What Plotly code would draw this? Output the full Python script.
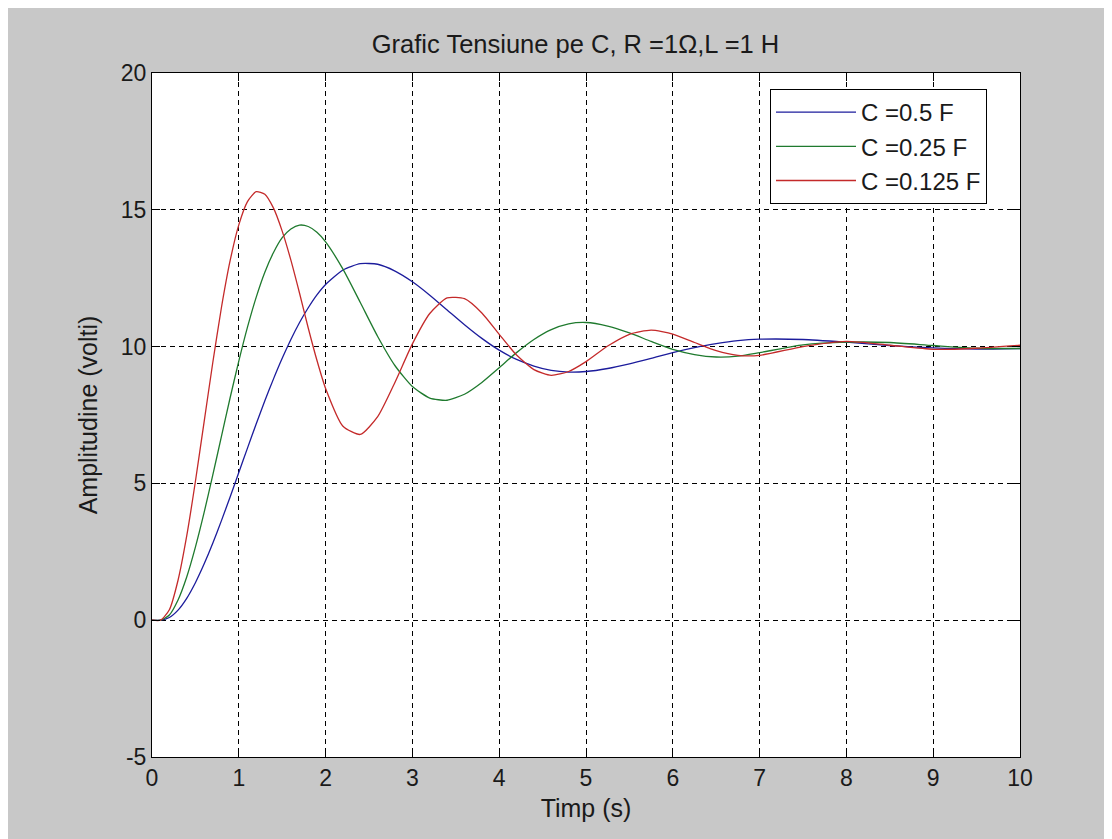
import plotly.graph_objects as go

# time axis (s)
t = [0, 0.1, 0.2, 0.3, 0.4, 0.5, 0.6, 0.7, 0.8, 0.9, 1.0, 1.1, 1.2, 1.3, 1.4, 1.5, 1.6, 1.7, 1.8, 1.9, 2.0,
     2.2, 2.4, 2.6, 2.8, 3.0, 3.2, 3.4, 3.6, 3.8, 4.0, 4.2, 4.4, 4.6, 4.8, 5.0,
     5.25, 5.5, 5.75, 6.0, 6.25, 6.5, 6.75, 7.0, 7.5, 8.0, 8.5, 9.0, 9.5, 10.0]

# C = 0.5 F
v_c05 = [0, 0, 0.10, 0.37, 0.80, 1.37, 2.05, 2.81, 3.64, 4.50, 5.40, 6.29, 7.17, 8.02, 8.82, 9.57, 10.26, 10.88, 11.42, 11.89, 12.27,
         12.80, 13.03, 13.01, 12.76, 12.37, 11.88, 11.34, 10.80, 10.30, 9.87, 9.53, 9.29, 9.13, 9.07, 9.09,
         9.20, 9.37, 9.57, 9.78, 9.96, 10.11, 10.22, 10.27, 10.26, 10.16, 10.04, 9.95, 9.91, 9.93]

# C = 0.25 F
v_c025 = [0, 0, 0.19, 0.74, 1.58, 2.67, 3.93, 5.30, 6.72, 8.13, 9.47, 10.71, 11.80, 12.72, 13.44, 13.98, 14.30, 14.44, 14.39, 14.18, 13.83,
          12.83, 11.61, 10.37, 9.30, 8.54, 8.12, 8.04, 8.26, 8.69, 9.23, 9.78, 10.26, 10.62, 10.83, 10.88,
          10.75, 10.50, 10.19, 9.90, 9.71, 9.62, 9.65, 9.78, 10.06, 10.16, 10.15, 10.04, 9.94, 9.93]

# C = 0.125 F
v_c0125 = [0, 0, 0.38, 1.46, 3.08, 5.07, 7.24, 9.41, 11.43, 13.14, 14.45, 15.30, 15.66, 15.57, 15.06, 14.22, 13.16, 11.95, 10.68, 9.50, 8.47,
           7.09, 6.79, 7.44, 8.70, 10.10, 11.21, 11.78, 11.75, 11.23, 10.45, 9.69, 9.16, 8.95, 9.09, 9.45,
           10.02, 10.45, 10.60, 10.46, 10.15, 9.85, 9.68, 9.68, 10.00, 10.19, 10.05, 9.90, 9.94, 10.05]

series_names = ["C =0.5 F", "C =0.25 F", "C =0.125 F"]
series_values = [v_c05, v_c025, v_c0125]
series_colors = ["#1c1c9c", "#1f7a2e", "#c42a2a"]

x_ticks = list(range(0, 11))
x_ticktext = [str(v) for v in x_ticks]
y_ticks = [-5, 0, 5, 10, 15, 20]
y_ticktext = ["-5", "0", "5", "10", "15", "20"]

FONT = "Liberation Sans, Arial, sans-serif"
TXT = "#1a1a1a"

fig = go.Figure()
for i, (name, vals, col) in enumerate(zip(series_names, series_values, series_colors)):
    fig.add_trace(go.Scatter(
        x=t, y=vals, mode="lines", name=name, legendgroup=f"g{i}",
        line=dict(color=col, width=1.3, shape="spline", smoothing=0.6),
    ))

axis_common = dict(
    showline=True, linecolor="black", linewidth=1, mirror="ticks",
    ticks="inside", ticklen=8, tickcolor="black", tickwidth=1,
    showgrid=True, gridcolor="black", gridwidth=1, griddash="5px,4px",
    zeroline=False, tickfont=dict(family=FONT, size=23, color=TXT),
)

fig.update_layout(
    width=1112, height=839,
    margin=dict(l=144, r=100, t=65, b=90),
    paper_bgcolor="#c8c8c8", plot_bgcolor="white",
    title=dict(text="Grafic Tensiune pe C, R =1Ω,L =1 H", x=567.5 / 1112, xanchor="center",
               y=1 - 36 / 839, yanchor="middle",
               font=dict(family=FONT, size=25.5, color=TXT)),
    xaxis=dict(range=[0, 10], tickvals=x_ticks, ticktext=x_ticktext,
               title=dict(text="Timp (s)", font=dict(family=FONT, size=25, color=TXT), standoff=9),
               **axis_common),
    yaxis=dict(range=[-5, 20], tickvals=y_ticks, ticktext=y_ticktext,
               title=dict(text="Amplitudine (volti)", font=dict(family=FONT, size=25, color=TXT), standoff=16),
               **axis_common),
    legend=dict(x=(770 - 152) / 868, xanchor="left", y=(757 - 89) / 684, yanchor="top",
                bgcolor="white", bordercolor="black", borderwidth=1,
                font=dict(family=FONT, size=24, color=TXT),
                itemwidth=80, tracegroupgap=8, traceorder="normal"),
    showlegend=True,
)

fig.write_html("out.html")
